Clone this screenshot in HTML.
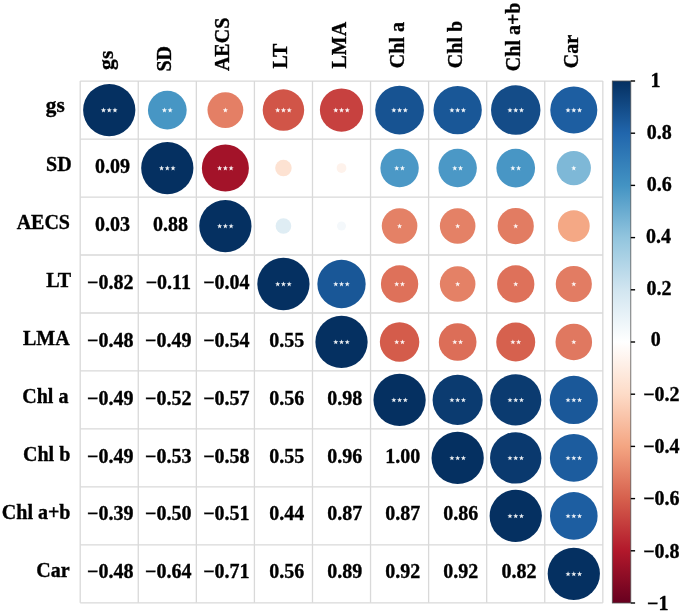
<!DOCTYPE html><html><head><meta charset="utf-8"><style>html,body{margin:0;padding:0;background:#fff;width:685px;height:615px;overflow:hidden}svg{display:block;will-change:transform;opacity:0.999}text{font-family:"Liberation Serif",serif;font-weight:bold;font-size:20px;fill:#000;stroke:#000;stroke-width:0.35px}</style></head><body>
<svg width="685" height="615" viewBox="0 0 685 615">
<g stroke="#D9D9D9" stroke-width="1.3"><line x1="80.20" y1="81.10" x2="80.20" y2="602.83"/><line x1="80.20" y1="81.10" x2="602.83" y2="81.10"/><line x1="138.27" y1="81.10" x2="138.27" y2="602.83"/><line x1="80.20" y1="139.07" x2="602.83" y2="139.07"/><line x1="196.34" y1="81.10" x2="196.34" y2="602.83"/><line x1="80.20" y1="197.04" x2="602.83" y2="197.04"/><line x1="254.41" y1="81.10" x2="254.41" y2="602.83"/><line x1="80.20" y1="255.01" x2="602.83" y2="255.01"/><line x1="312.48" y1="81.10" x2="312.48" y2="602.83"/><line x1="80.20" y1="312.98" x2="602.83" y2="312.98"/><line x1="370.55" y1="81.10" x2="370.55" y2="602.83"/><line x1="80.20" y1="370.95" x2="602.83" y2="370.95"/><line x1="428.62" y1="81.10" x2="428.62" y2="602.83"/><line x1="80.20" y1="428.92" x2="602.83" y2="428.92"/><line x1="486.69" y1="81.10" x2="486.69" y2="602.83"/><line x1="80.20" y1="486.89" x2="602.83" y2="486.89"/><line x1="544.76" y1="81.10" x2="544.76" y2="602.83"/><line x1="80.20" y1="544.86" x2="602.83" y2="544.86"/><line x1="602.83" y1="81.10" x2="602.83" y2="602.83"/><line x1="80.20" y1="602.83" x2="602.83" y2="602.83"/></g>
<circle cx="109.23" cy="110.08" r="26.13" fill="#053061"/>
<circle cx="167.31" cy="110.08" r="19.38" fill="#4796C4"/>
<circle cx="225.38" cy="110.08" r="17.91" fill="#E47F65"/>
<circle cx="283.44" cy="110.08" r="20.74" fill="#D15548"/>
<circle cx="341.51" cy="110.08" r="21.63" fill="#C7413F"/>
<circle cx="399.58" cy="110.08" r="24.37" fill="#175392"/>
<circle cx="457.65" cy="110.08" r="24.16" fill="#195797"/>
<circle cx="515.73" cy="110.08" r="24.72" fill="#144C88"/>
<circle cx="573.80" cy="110.08" r="23.52" fill="#1D5EA1"/>
<circle cx="167.31" cy="168.06" r="26.13" fill="#053061"/>
<circle cx="225.38" cy="168.06" r="23.52" fill="#A31329"/>
<circle cx="283.44" cy="168.06" r="8.26" fill="#FDE2D2"/>
<circle cx="341.51" cy="168.06" r="4.89" fill="#FEF2EB"/>
<circle cx="399.58" cy="168.06" r="19.20" fill="#4B98C6"/>
<circle cx="457.65" cy="168.06" r="19.20" fill="#4B98C6"/>
<circle cx="515.73" cy="168.06" r="19.33" fill="#4896C5"/>
<circle cx="573.80" cy="168.06" r="17.14" fill="#7EB8D7"/>
<circle cx="225.38" cy="226.03" r="26.13" fill="#053061"/>
<circle cx="283.44" cy="226.03" r="7.84" fill="#DFEDF4"/>
<circle cx="341.51" cy="226.03" r="4.53" fill="#F4F8FB"/>
<circle cx="399.58" cy="226.03" r="17.80" fill="#E48166"/>
<circle cx="457.65" cy="226.03" r="17.80" fill="#E48166"/>
<circle cx="515.73" cy="226.03" r="18.10" fill="#E27C62"/>
<circle cx="573.80" cy="226.03" r="15.90" fill="#F4A885"/>
<circle cx="283.44" cy="284.00" r="26.13" fill="#053061"/>
<circle cx="341.51" cy="284.00" r="24.16" fill="#195797"/>
<circle cx="399.58" cy="284.00" r="18.66" fill="#DE715A"/>
<circle cx="457.65" cy="284.00" r="17.80" fill="#E48166"/>
<circle cx="515.73" cy="284.00" r="18.66" fill="#DE715A"/>
<circle cx="573.80" cy="284.00" r="18.07" fill="#E27C63"/>
<circle cx="341.51" cy="341.97" r="26.13" fill="#053061"/>
<circle cx="399.58" cy="341.97" r="19.73" fill="#D45C4B"/>
<circle cx="457.65" cy="341.97" r="18.84" fill="#DC6E58"/>
<circle cx="515.73" cy="341.97" r="19.50" fill="#D6614E"/>
<circle cx="573.80" cy="341.97" r="18.29" fill="#E07860"/>
<circle cx="399.58" cy="399.93" r="26.13" fill="#053061"/>
<circle cx="457.65" cy="399.93" r="25.06" fill="#0B3B70"/>
<circle cx="515.73" cy="399.93" r="25.60" fill="#0B3B70"/>
<circle cx="573.80" cy="399.93" r="24.09" fill="#1A5899"/>
<circle cx="457.65" cy="457.90" r="26.13" fill="#053061"/>
<circle cx="515.73" cy="457.90" r="25.68" fill="#0A396E"/>
<circle cx="573.80" cy="457.90" r="23.92" fill="#1C5C9E"/>
<circle cx="515.73" cy="515.88" r="26.13" fill="#053061"/>
<circle cx="573.80" cy="515.88" r="23.81" fill="#1D5EA1"/>
<circle cx="573.80" cy="573.85" r="26.13" fill="#053061"/>
<g fill="#FFFFFF" fill-opacity="0.92"><polygon points="103.48,107.58 104.15,109.37 106.05,109.45 104.56,110.64 105.07,112.47 103.48,111.42 101.90,112.47 102.41,110.64 100.92,109.45 102.82,109.37"/><polygon points="109.23,107.58 109.90,109.37 111.80,109.45 110.31,110.64 110.82,112.47 109.23,111.42 107.65,112.47 108.16,110.64 106.67,109.45 108.57,109.37"/><polygon points="114.98,107.58 115.65,109.37 117.55,109.45 116.06,110.64 116.57,112.47 114.98,111.42 113.40,112.47 113.91,110.64 112.42,109.45 114.32,109.37"/><polygon points="164.43,107.58 165.10,109.37 167.00,109.45 165.51,110.64 166.02,112.47 164.43,111.42 162.84,112.47 163.35,110.64 161.86,109.45 163.76,109.37"/><polygon points="170.18,107.58 170.85,109.37 172.75,109.45 171.26,110.64 171.77,112.47 170.18,111.42 168.59,112.47 169.10,110.64 167.61,109.45 169.51,109.37"/><polygon points="225.38,107.58 226.04,109.37 227.94,109.45 226.45,110.64 226.96,112.47 225.38,111.42 223.79,112.47 224.30,110.64 222.81,109.45 224.71,109.37"/><polygon points="277.69,107.58 278.36,109.37 280.26,109.45 278.77,110.64 279.28,112.47 277.69,111.42 276.11,112.47 276.62,110.64 275.13,109.45 277.03,109.37"/><polygon points="283.44,107.58 284.11,109.37 286.01,109.45 284.52,110.64 285.03,112.47 283.44,111.42 281.86,112.47 282.37,110.64 280.88,109.45 282.78,109.37"/><polygon points="289.19,107.58 289.86,109.37 291.76,109.45 290.27,110.64 290.78,112.47 289.19,111.42 287.61,112.47 288.12,110.64 286.63,109.45 288.53,109.37"/><polygon points="335.76,107.58 336.43,109.37 338.33,109.45 336.84,110.64 337.35,112.47 335.76,111.42 334.18,112.47 334.69,110.64 333.20,109.45 335.10,109.37"/><polygon points="341.51,107.58 342.18,109.37 344.08,109.45 342.59,110.64 343.10,112.47 341.51,111.42 339.93,112.47 340.44,110.64 338.95,109.45 340.85,109.37"/><polygon points="347.26,107.58 347.93,109.37 349.83,109.45 348.34,110.64 348.85,112.47 347.26,111.42 345.68,112.47 346.19,110.64 344.70,109.45 346.60,109.37"/><polygon points="393.83,107.58 394.50,109.37 396.40,109.45 394.91,110.64 395.42,112.47 393.83,111.42 392.25,112.47 392.76,110.64 391.27,109.45 393.17,109.37"/><polygon points="399.58,107.58 400.25,109.37 402.15,109.45 400.66,110.64 401.17,112.47 399.58,111.42 398.00,112.47 398.51,110.64 397.02,109.45 398.92,109.37"/><polygon points="405.33,107.58 406.00,109.37 407.90,109.45 406.41,110.64 406.92,112.47 405.33,111.42 403.75,112.47 404.26,110.64 402.77,109.45 404.67,109.37"/><polygon points="451.90,107.58 452.57,109.37 454.47,109.45 452.98,110.64 453.49,112.47 451.90,111.42 450.32,112.47 450.83,110.64 449.34,109.45 451.24,109.37"/><polygon points="457.65,107.58 458.32,109.37 460.22,109.45 458.73,110.64 459.24,112.47 457.65,111.42 456.07,112.47 456.58,110.64 455.09,109.45 456.99,109.37"/><polygon points="463.40,107.58 464.07,109.37 465.97,109.45 464.48,110.64 464.99,112.47 463.40,111.42 461.82,112.47 462.33,110.64 460.84,109.45 462.74,109.37"/><polygon points="509.98,107.58 510.64,109.37 512.54,109.45 511.05,110.64 511.56,112.47 509.98,111.42 508.39,112.47 508.90,110.64 507.41,109.45 509.31,109.37"/><polygon points="515.73,107.58 516.39,109.37 518.29,109.45 516.80,110.64 517.31,112.47 515.73,111.42 514.14,112.47 514.65,110.64 513.16,109.45 515.06,109.37"/><polygon points="521.48,107.58 522.14,109.37 524.04,109.45 522.55,110.64 523.06,112.47 521.48,111.42 519.89,112.47 520.40,110.64 518.91,109.45 520.81,109.37"/><polygon points="568.05,107.58 568.71,109.37 570.61,109.45 569.12,110.64 569.63,112.47 568.05,111.42 566.46,112.47 566.97,110.64 565.48,109.45 567.38,109.37"/><polygon points="573.80,107.58 574.46,109.37 576.36,109.45 574.87,110.64 575.38,112.47 573.80,111.42 572.21,112.47 572.72,110.64 571.23,109.45 573.13,109.37"/><polygon points="579.55,107.58 580.21,109.37 582.11,109.45 580.62,110.64 581.13,112.47 579.55,111.42 577.96,112.47 578.47,110.64 576.98,109.45 578.88,109.37"/><polygon points="161.56,165.56 162.22,167.34 164.12,167.42 162.63,168.61 163.14,170.44 161.56,169.39 159.97,170.44 160.48,168.61 158.99,167.42 160.89,167.34"/><polygon points="167.31,165.56 167.97,167.34 169.87,167.42 168.38,168.61 168.89,170.44 167.31,169.39 165.72,170.44 166.23,168.61 164.74,167.42 166.64,167.34"/><polygon points="173.06,165.56 173.72,167.34 175.62,167.42 174.13,168.61 174.64,170.44 173.06,169.39 171.47,170.44 171.98,168.61 170.49,167.42 172.39,167.34"/><polygon points="219.62,165.56 220.29,167.34 222.19,167.42 220.70,168.61 221.21,170.44 219.62,169.39 218.04,170.44 218.55,168.61 217.06,167.42 218.96,167.34"/><polygon points="225.38,165.56 226.04,167.34 227.94,167.42 226.45,168.61 226.96,170.44 225.38,169.39 223.79,170.44 224.30,168.61 222.81,167.42 224.71,167.34"/><polygon points="231.12,165.56 231.79,167.34 233.69,167.42 232.20,168.61 232.71,170.44 231.12,169.39 229.54,170.44 230.05,168.61 228.56,167.42 230.46,167.34"/><polygon points="396.71,165.56 397.38,167.34 399.28,167.42 397.79,168.61 398.30,170.44 396.71,169.39 395.12,170.44 395.63,168.61 394.14,167.42 396.04,167.34"/><polygon points="402.46,165.56 403.13,167.34 405.03,167.42 403.54,168.61 404.05,170.44 402.46,169.39 400.87,170.44 401.38,168.61 399.89,167.42 401.79,167.34"/><polygon points="454.78,165.56 455.45,167.34 457.35,167.42 455.86,168.61 456.37,170.44 454.78,169.39 453.19,170.44 453.70,168.61 452.21,167.42 454.11,167.34"/><polygon points="460.53,165.56 461.20,167.34 463.10,167.42 461.61,168.61 462.12,170.44 460.53,169.39 458.94,170.44 459.45,168.61 457.96,167.42 459.86,167.34"/><polygon points="512.85,165.56 513.52,167.34 515.42,167.42 513.93,168.61 514.44,170.44 512.85,169.39 511.26,170.44 511.77,168.61 510.28,167.42 512.18,167.34"/><polygon points="518.60,165.56 519.27,167.34 521.17,167.42 519.68,168.61 520.19,170.44 518.60,169.39 517.01,170.44 517.52,168.61 516.03,167.42 517.93,167.34"/><polygon points="573.80,165.56 574.46,167.34 576.36,167.42 574.87,168.61 575.38,170.44 573.80,169.39 572.21,170.44 572.72,168.61 571.23,167.42 573.13,167.34"/><polygon points="219.62,223.53 220.29,225.31 222.19,225.39 220.70,226.58 221.21,228.41 219.62,227.36 218.04,228.41 218.55,226.58 217.06,225.39 218.96,225.31"/><polygon points="225.38,223.53 226.04,225.31 227.94,225.39 226.45,226.58 226.96,228.41 225.38,227.36 223.79,228.41 224.30,226.58 222.81,225.39 224.71,225.31"/><polygon points="231.12,223.53 231.79,225.31 233.69,225.39 232.20,226.58 232.71,228.41 231.12,227.36 229.54,228.41 230.05,226.58 228.56,225.39 230.46,225.31"/><polygon points="399.58,223.53 400.25,225.31 402.15,225.39 400.66,226.58 401.17,228.41 399.58,227.36 398.00,228.41 398.51,226.58 397.02,225.39 398.92,225.31"/><polygon points="457.65,223.53 458.32,225.31 460.22,225.39 458.73,226.58 459.24,228.41 457.65,227.36 456.07,228.41 456.58,226.58 455.09,225.39 456.99,225.31"/><polygon points="515.73,223.53 516.39,225.31 518.29,225.39 516.80,226.58 517.31,228.41 515.73,227.36 514.14,228.41 514.65,226.58 513.16,225.39 515.06,225.31"/><polygon points="277.69,281.50 278.36,283.28 280.26,283.36 278.77,284.55 279.28,286.38 277.69,285.33 276.11,286.38 276.62,284.55 275.13,283.36 277.03,283.28"/><polygon points="283.44,281.50 284.11,283.28 286.01,283.36 284.52,284.55 285.03,286.38 283.44,285.33 281.86,286.38 282.37,284.55 280.88,283.36 282.78,283.28"/><polygon points="289.19,281.50 289.86,283.28 291.76,283.36 290.27,284.55 290.78,286.38 289.19,285.33 287.61,286.38 288.12,284.55 286.63,283.36 288.53,283.28"/><polygon points="335.76,281.50 336.43,283.28 338.33,283.36 336.84,284.55 337.35,286.38 335.76,285.33 334.18,286.38 334.69,284.55 333.20,283.36 335.10,283.28"/><polygon points="341.51,281.50 342.18,283.28 344.08,283.36 342.59,284.55 343.10,286.38 341.51,285.33 339.93,286.38 340.44,284.55 338.95,283.36 340.85,283.28"/><polygon points="347.26,281.50 347.93,283.28 349.83,283.36 348.34,284.55 348.85,286.38 347.26,285.33 345.68,286.38 346.19,284.55 344.70,283.36 346.60,283.28"/><polygon points="396.71,281.50 397.38,283.28 399.28,283.36 397.79,284.55 398.30,286.38 396.71,285.33 395.12,286.38 395.63,284.55 394.14,283.36 396.04,283.28"/><polygon points="402.46,281.50 403.13,283.28 405.03,283.36 403.54,284.55 404.05,286.38 402.46,285.33 400.87,286.38 401.38,284.55 399.89,283.36 401.79,283.28"/><polygon points="457.65,281.50 458.32,283.28 460.22,283.36 458.73,284.55 459.24,286.38 457.65,285.33 456.07,286.38 456.58,284.55 455.09,283.36 456.99,283.28"/><polygon points="515.73,281.50 516.39,283.28 518.29,283.36 516.80,284.55 517.31,286.38 515.73,285.33 514.14,286.38 514.65,284.55 513.16,283.36 515.06,283.28"/><polygon points="573.80,281.50 574.46,283.28 576.36,283.36 574.87,284.55 575.38,286.38 573.80,285.33 572.21,286.38 572.72,284.55 571.23,283.36 573.13,283.28"/><polygon points="335.76,339.47 336.43,341.25 338.33,341.33 336.84,342.52 337.35,344.35 335.76,343.30 334.18,344.35 334.69,342.52 333.20,341.33 335.10,341.25"/><polygon points="341.51,339.47 342.18,341.25 344.08,341.33 342.59,342.52 343.10,344.35 341.51,343.30 339.93,344.35 340.44,342.52 338.95,341.33 340.85,341.25"/><polygon points="347.26,339.47 347.93,341.25 349.83,341.33 348.34,342.52 348.85,344.35 347.26,343.30 345.68,344.35 346.19,342.52 344.70,341.33 346.60,341.25"/><polygon points="396.71,339.47 397.38,341.25 399.28,341.33 397.79,342.52 398.30,344.35 396.71,343.30 395.12,344.35 395.63,342.52 394.14,341.33 396.04,341.25"/><polygon points="402.46,339.47 403.13,341.25 405.03,341.33 403.54,342.52 404.05,344.35 402.46,343.30 400.87,344.35 401.38,342.52 399.89,341.33 401.79,341.25"/><polygon points="454.78,339.47 455.45,341.25 457.35,341.33 455.86,342.52 456.37,344.35 454.78,343.30 453.19,344.35 453.70,342.52 452.21,341.33 454.11,341.25"/><polygon points="460.53,339.47 461.20,341.25 463.10,341.33 461.61,342.52 462.12,344.35 460.53,343.30 458.94,344.35 459.45,342.52 457.96,341.33 459.86,341.25"/><polygon points="512.85,339.47 513.52,341.25 515.42,341.33 513.93,342.52 514.44,344.35 512.85,343.30 511.26,344.35 511.77,342.52 510.28,341.33 512.18,341.25"/><polygon points="518.60,339.47 519.27,341.25 521.17,341.33 519.68,342.52 520.19,344.35 518.60,343.30 517.01,344.35 517.52,342.52 516.03,341.33 517.93,341.25"/><polygon points="573.80,339.47 574.46,341.25 576.36,341.33 574.87,342.52 575.38,344.35 573.80,343.30 572.21,344.35 572.72,342.52 571.23,341.33 573.13,341.25"/><polygon points="393.83,397.43 394.50,399.22 396.40,399.30 394.91,400.49 395.42,402.32 393.83,401.27 392.25,402.32 392.76,400.49 391.27,399.30 393.17,399.22"/><polygon points="399.58,397.43 400.25,399.22 402.15,399.30 400.66,400.49 401.17,402.32 399.58,401.27 398.00,402.32 398.51,400.49 397.02,399.30 398.92,399.22"/><polygon points="405.33,397.43 406.00,399.22 407.90,399.30 406.41,400.49 406.92,402.32 405.33,401.27 403.75,402.32 404.26,400.49 402.77,399.30 404.67,399.22"/><polygon points="451.90,397.43 452.57,399.22 454.47,399.30 452.98,400.49 453.49,402.32 451.90,401.27 450.32,402.32 450.83,400.49 449.34,399.30 451.24,399.22"/><polygon points="457.65,397.43 458.32,399.22 460.22,399.30 458.73,400.49 459.24,402.32 457.65,401.27 456.07,402.32 456.58,400.49 455.09,399.30 456.99,399.22"/><polygon points="463.40,397.43 464.07,399.22 465.97,399.30 464.48,400.49 464.99,402.32 463.40,401.27 461.82,402.32 462.33,400.49 460.84,399.30 462.74,399.22"/><polygon points="509.98,397.43 510.64,399.22 512.54,399.30 511.05,400.49 511.56,402.32 509.98,401.27 508.39,402.32 508.90,400.49 507.41,399.30 509.31,399.22"/><polygon points="515.73,397.43 516.39,399.22 518.29,399.30 516.80,400.49 517.31,402.32 515.73,401.27 514.14,402.32 514.65,400.49 513.16,399.30 515.06,399.22"/><polygon points="521.48,397.43 522.14,399.22 524.04,399.30 522.55,400.49 523.06,402.32 521.48,401.27 519.89,402.32 520.40,400.49 518.91,399.30 520.81,399.22"/><polygon points="568.05,397.43 568.71,399.22 570.61,399.30 569.12,400.49 569.63,402.32 568.05,401.27 566.46,402.32 566.97,400.49 565.48,399.30 567.38,399.22"/><polygon points="573.80,397.43 574.46,399.22 576.36,399.30 574.87,400.49 575.38,402.32 573.80,401.27 572.21,402.32 572.72,400.49 571.23,399.30 573.13,399.22"/><polygon points="579.55,397.43 580.21,399.22 582.11,399.30 580.62,400.49 581.13,402.32 579.55,401.27 577.96,402.32 578.47,400.49 576.98,399.30 578.88,399.22"/><polygon points="451.90,455.40 452.57,457.19 454.47,457.27 452.98,458.46 453.49,460.29 451.90,459.24 450.32,460.29 450.83,458.46 449.34,457.27 451.24,457.19"/><polygon points="457.65,455.40 458.32,457.19 460.22,457.27 458.73,458.46 459.24,460.29 457.65,459.24 456.07,460.29 456.58,458.46 455.09,457.27 456.99,457.19"/><polygon points="463.40,455.40 464.07,457.19 465.97,457.27 464.48,458.46 464.99,460.29 463.40,459.24 461.82,460.29 462.33,458.46 460.84,457.27 462.74,457.19"/><polygon points="509.98,455.40 510.64,457.19 512.54,457.27 511.05,458.46 511.56,460.29 509.98,459.24 508.39,460.29 508.90,458.46 507.41,457.27 509.31,457.19"/><polygon points="515.73,455.40 516.39,457.19 518.29,457.27 516.80,458.46 517.31,460.29 515.73,459.24 514.14,460.29 514.65,458.46 513.16,457.27 515.06,457.19"/><polygon points="521.48,455.40 522.14,457.19 524.04,457.27 522.55,458.46 523.06,460.29 521.48,459.24 519.89,460.29 520.40,458.46 518.91,457.27 520.81,457.19"/><polygon points="568.05,455.40 568.71,457.19 570.61,457.27 569.12,458.46 569.63,460.29 568.05,459.24 566.46,460.29 566.97,458.46 565.48,457.27 567.38,457.19"/><polygon points="573.80,455.40 574.46,457.19 576.36,457.27 574.87,458.46 575.38,460.29 573.80,459.24 572.21,460.29 572.72,458.46 571.23,457.27 573.13,457.19"/><polygon points="579.55,455.40 580.21,457.19 582.11,457.27 580.62,458.46 581.13,460.29 579.55,459.24 577.96,460.29 578.47,458.46 576.98,457.27 578.88,457.19"/><polygon points="509.98,513.38 510.64,515.16 512.54,515.24 511.05,516.43 511.56,518.26 509.98,517.21 508.39,518.26 508.90,516.43 507.41,515.24 509.31,515.16"/><polygon points="515.73,513.38 516.39,515.16 518.29,515.24 516.80,516.43 517.31,518.26 515.73,517.21 514.14,518.26 514.65,516.43 513.16,515.24 515.06,515.16"/><polygon points="521.48,513.38 522.14,515.16 524.04,515.24 522.55,516.43 523.06,518.26 521.48,517.21 519.89,518.26 520.40,516.43 518.91,515.24 520.81,515.16"/><polygon points="568.05,513.38 568.71,515.16 570.61,515.24 569.12,516.43 569.63,518.26 568.05,517.21 566.46,518.26 566.97,516.43 565.48,515.24 567.38,515.16"/><polygon points="573.80,513.38 574.46,515.16 576.36,515.24 574.87,516.43 575.38,518.26 573.80,517.21 572.21,518.26 572.72,516.43 571.23,515.24 573.13,515.16"/><polygon points="579.55,513.38 580.21,515.16 582.11,515.24 580.62,516.43 581.13,518.26 579.55,517.21 577.96,518.26 578.47,516.43 576.98,515.24 578.88,515.16"/><polygon points="568.05,571.35 568.71,573.13 570.61,573.21 569.12,574.40 569.63,576.23 568.05,575.18 566.46,576.23 566.97,574.40 565.48,573.21 567.38,573.13"/><polygon points="573.80,571.35 574.46,573.13 576.36,573.21 574.87,574.40 575.38,576.23 573.80,575.18 572.21,576.23 572.72,574.40 571.23,573.21 573.13,573.13"/><polygon points="579.55,571.35 580.21,573.13 582.11,573.21 580.62,574.40 581.13,576.23 579.55,575.18 577.96,576.23 578.47,574.40 576.98,573.21 578.88,573.13"/></g>
<text x="112.44" y="172.66" text-anchor="middle">0.09</text>
<text x="112.44" y="230.62" text-anchor="middle">0.03</text>
<text x="170.50" y="230.62" text-anchor="middle">0.88</text>
<text x="110.23" y="288.60" text-anchor="middle">−0.82</text>
<text x="168.31" y="288.60" text-anchor="middle">−0.11</text>
<text x="226.38" y="288.60" text-anchor="middle">−0.04</text>
<text x="110.23" y="346.57" text-anchor="middle">−0.48</text>
<text x="168.31" y="346.57" text-anchor="middle">−0.49</text>
<text x="226.38" y="346.57" text-anchor="middle">−0.54</text>
<text x="286.64" y="346.57" text-anchor="middle">0.55</text>
<text x="110.23" y="404.53" text-anchor="middle">−0.49</text>
<text x="168.31" y="404.53" text-anchor="middle">−0.52</text>
<text x="226.38" y="404.53" text-anchor="middle">−0.57</text>
<text x="286.64" y="404.53" text-anchor="middle">0.56</text>
<text x="344.71" y="404.53" text-anchor="middle">0.98</text>
<text x="110.23" y="462.50" text-anchor="middle">−0.49</text>
<text x="168.31" y="462.50" text-anchor="middle">−0.53</text>
<text x="226.38" y="462.50" text-anchor="middle">−0.58</text>
<text x="286.64" y="462.50" text-anchor="middle">0.55</text>
<text x="344.71" y="462.50" text-anchor="middle">0.96</text>
<text x="402.78" y="462.50" text-anchor="middle">1.00</text>
<text x="110.23" y="520.48" text-anchor="middle">−0.39</text>
<text x="168.31" y="520.48" text-anchor="middle">−0.50</text>
<text x="226.38" y="520.48" text-anchor="middle">−0.51</text>
<text x="286.64" y="520.48" text-anchor="middle">0.44</text>
<text x="344.71" y="520.48" text-anchor="middle">0.87</text>
<text x="402.78" y="520.48" text-anchor="middle">0.87</text>
<text x="460.85" y="520.48" text-anchor="middle">0.86</text>
<text x="110.23" y="578.45" text-anchor="middle">−0.48</text>
<text x="168.31" y="578.45" text-anchor="middle">−0.64</text>
<text x="226.38" y="578.45" text-anchor="middle">−0.71</text>
<text x="286.64" y="578.45" text-anchor="middle">0.56</text>
<text x="344.71" y="578.45" text-anchor="middle">0.89</text>
<text x="402.78" y="578.45" text-anchor="middle">0.92</text>
<text x="460.85" y="578.45" text-anchor="middle">0.92</text>
<text x="518.93" y="578.45" text-anchor="middle">0.82</text>
<text x="64.70" y="111.98" text-anchor="end" textLength="18.9" lengthAdjust="spacingAndGlyphs">gs</text>
<text x="71.60" y="170.86" text-anchor="end">SD</text>
<text x="70.00" y="228.83" text-anchor="end">AECS</text>
<text x="71.00" y="286.80" text-anchor="end">LT</text>
<text x="69.60" y="344.77" text-anchor="end">LMA</text>
<text x="68.40" y="402.73" text-anchor="end">Chl a</text>
<text x="70.30" y="460.70" text-anchor="end">Chl b</text>
<text x="70.50" y="518.67" text-anchor="end">Chl a+b</text>
<text x="69.70" y="576.64" text-anchor="end">Car</text>
<text transform="translate(113.23 69.90) rotate(-90)" x="0" y="0" text-anchor="start" textLength="19.2" lengthAdjust="spacingAndGlyphs">gs</text>
<text transform="translate(171.31 71.60) rotate(-90)" x="0" y="0" text-anchor="start">SD</text>
<text transform="translate(229.38 71.10) rotate(-90)" x="0" y="0" text-anchor="start">AECS</text>
<text transform="translate(287.44 68.50) rotate(-90)" x="0" y="0" text-anchor="start">LT</text>
<text transform="translate(345.51 68.50) rotate(-90)" x="0" y="0" text-anchor="start">LMA</text>
<text transform="translate(403.58 68.20) rotate(-90)" x="0" y="0" text-anchor="start">Chl a</text>
<text transform="translate(461.65 68.20) rotate(-90)" x="0" y="0" text-anchor="start">Chl b</text>
<text transform="translate(519.73 71.20) rotate(-90)" x="0" y="0" text-anchor="start">Chl a+b</text>
<text transform="translate(577.80 68.20) rotate(-90)" x="0" y="0" text-anchor="start">Car</text>
<defs><linearGradient id="cb" x1="0" y1="0" x2="0" y2="1"><stop offset="0.000" stop-color="#053061"/><stop offset="0.100" stop-color="#2166AC"/><stop offset="0.200" stop-color="#4393C3"/><stop offset="0.300" stop-color="#92C5DE"/><stop offset="0.400" stop-color="#D1E5F0"/><stop offset="0.500" stop-color="#FFFFFF"/><stop offset="0.600" stop-color="#FDDBC7"/><stop offset="0.700" stop-color="#F4A582"/><stop offset="0.800" stop-color="#D6604D"/><stop offset="0.900" stop-color="#B2182B"/><stop offset="1.000" stop-color="#67001F"/></linearGradient></defs>
<rect x="612.30" y="81.00" width="18.50" height="522.00" fill="url(#cb)" stroke="#555" stroke-width="0.8"/>
<line x1="630.80" y1="81.00" x2="635.10" y2="81.00" stroke="#000" stroke-width="1.4"/>
<line x1="630.80" y1="133.20" x2="635.10" y2="133.20" stroke="#000" stroke-width="1.4"/>
<line x1="630.80" y1="185.40" x2="635.10" y2="185.40" stroke="#000" stroke-width="1.4"/>
<line x1="630.80" y1="237.60" x2="635.10" y2="237.60" stroke="#000" stroke-width="1.4"/>
<line x1="630.80" y1="289.80" x2="635.10" y2="289.80" stroke="#000" stroke-width="1.4"/>
<line x1="630.80" y1="342.00" x2="635.10" y2="342.00" stroke="#000" stroke-width="1.4"/>
<line x1="630.80" y1="394.20" x2="635.10" y2="394.20" stroke="#000" stroke-width="1.4"/>
<line x1="630.80" y1="446.40" x2="635.10" y2="446.40" stroke="#000" stroke-width="1.4"/>
<line x1="630.80" y1="498.60" x2="635.10" y2="498.60" stroke="#000" stroke-width="1.4"/>
<line x1="630.80" y1="550.80" x2="635.10" y2="550.80" stroke="#000" stroke-width="1.4"/>
<line x1="630.80" y1="603.00" x2="635.10" y2="603.00" stroke="#000" stroke-width="1.4"/>
<text x="655.40" y="86.65" text-anchor="middle">1</text>
<text x="659.20" y="138.80" text-anchor="middle">0.8</text>
<text x="659.30" y="190.85" text-anchor="middle">0.6</text>
<text x="658.60" y="243.20" text-anchor="middle">0.4</text>
<text x="659.00" y="295.40" text-anchor="middle">0.2</text>
<text x="655.80" y="345.90" text-anchor="middle">0</text>
<text x="661.40" y="400.95" text-anchor="middle">−0.2</text>
<text x="661.40" y="452.95" text-anchor="middle">−0.4</text>
<text x="661.40" y="505.40" text-anchor="middle">−0.6</text>
<text x="661.40" y="557.55" text-anchor="middle">−0.8</text>
<text x="657.70" y="609.90" text-anchor="middle">−1</text>
</svg></body></html>
